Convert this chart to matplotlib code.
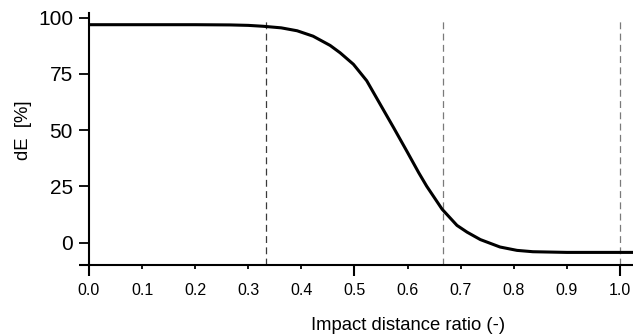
import matplotlib
matplotlib.use("Agg")
import matplotlib.pyplot as plt
from matplotlib.ticker import MultipleLocator, FixedLocator, FormatStrFormatter

stosunek = [0.0, 0.10, 0.20, 0.266, 0.300, 0.328, 0.362, 0.392, 0.422, 0.454, 0.473, 0.498,
            0.523, 0.548, 0.574, 0.599, 0.621, 0.636, 0.665, 0.693, 0.712,
            0.737, 0.774, 0.806, 0.836, 0.90, 0.96, 1.025]
dE = [96.8, 96.8, 96.8, 96.7, 96.5, 96.1, 95.4, 94.1, 91.7, 87.6, 84.3, 79.2,
      71.9, 61.6, 50.9, 40.4, 31.0, 25.0, 14.8, 7.6, 4.6,
      1.3, -2.0, -3.5, -4.1, -4.4, -4.4, -4.4]
linie_pionowe = [1 / 3, 2 / 3, 1.0]
kolory_linii = ["#3a3a3a", "#7a7a7a", "#7a7a7a"]

plt.rcParams['font.family'] = ['Liberation Sans', 'DejaVu Sans']

fig = plt.figure(figsize=(6.33, 3.36), dpi=100)
ax = fig.add_axes([89 / 633, 1 - 265 / 336, 1 - 89 / 633, (265 - 13) / 336])

for x, k in zip(linie_pionowe, kolory_linii):
    ax.vlines(x, -10, 100, colors=k, linewidth=0.9, linestyles=(0, (5.5, 3.5)), zorder=1)

ax.plot(stosunek, dE, color='black', linewidth=2.2, solid_joinstyle='round',
        solid_capstyle='round', zorder=3)

ax.set_xlim(0, 1.0245)
ax.set_ylim(-10, 102)

for s in ['top', 'right']:
    ax.spines[s].set_visible(False)
for s in ['left', 'bottom']:
    ax.spines[s].set_linewidth(1.5)

# os X: etykiety co 0.1, dluzsze kreski na 0, 0.5, 1.0
ax.xaxis.set_major_locator(MultipleLocator(0.1))
ax.xaxis.set_major_formatter(FormatStrFormatter('%.1f'))
ax.xaxis.set_minor_locator(FixedLocator([0.0, 0.5, 1.0]))
ax.xaxis.remove_overlapping_locs = False
ax.tick_params(axis='x', which='major', length=3, width=1.3, pad=10, labelsize=11.5, colors='black')
ax.tick_params(axis='x', which='minor', length=8, width=1.5)

# os Y
ax.yaxis.set_major_locator(FixedLocator([0, 25, 50, 75, 100]))
ax.yaxis.set_minor_locator(FixedLocator([-10]))
ax.tick_params(axis='y', which='major', length=7.5, width=1.3, pad=4, labelsize=15)
ax.tick_params(axis='y', which='minor', length=7.5, width=1.5)

ax.set_xlabel('Impact distance ratio (-)', fontsize=13.3)
ax.xaxis.set_label_coords((408 - 89) / 544, -(325 - 265) / 252)
ax.xaxis.label.set_verticalalignment('center')
ax.set_ylabel('dE  [%]', fontsize=13.3)
ax.yaxis.set_label_coords(-(89 - 24) / 544, (265 - 130) / 252)
ax.yaxis.label.set_verticalalignment('center')

fig.savefig('out.png', dpi=100)
